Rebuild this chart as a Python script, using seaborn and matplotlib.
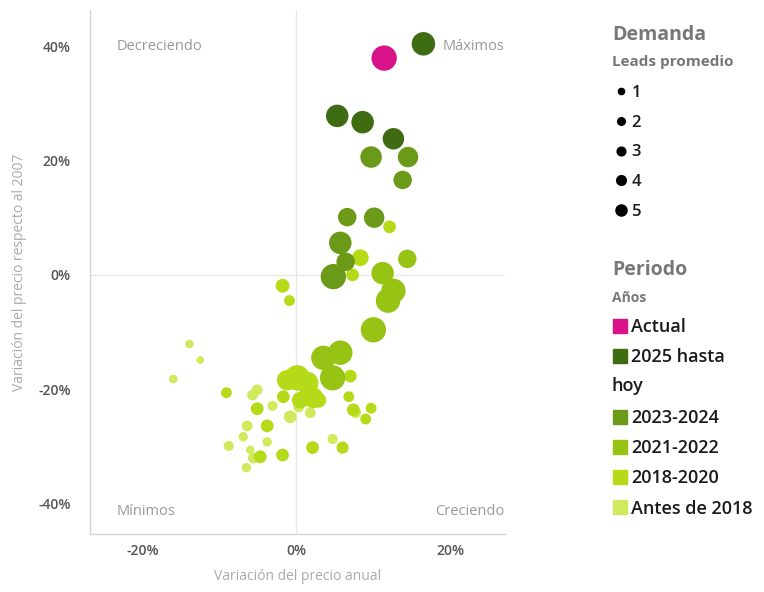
import numpy as np
import pandas as pd
import matplotlib.pyplot as plt
import seaborn as sns
from matplotlib.lines import Line2D

# ---- data ----
periodos = ['Actual', '2025 hasta hoy', '2023-2024', '2021-2022', '2018-2020', 'Antes de 2018']
colores = ['#d8138a', '#3f6b12', '#6a9a18', '#97c314', '#b5da18', '#cfea5c']

# variación del precio anual (%)
var_anual = [
    11.4,
    16.5, 5.3, 8.6, 12.6,
    9.7, 14.5, 13.8, 6.6, 10.1, 5.7, 6.4, 4.8,
    11.2, 12.6, 11.9, 14.4, 10.0, 3.5, 5.7, 4.7,
    12.1, 8.3, 7.3, -1.8, -0.9, 7.0, 0.1, -1.2, 1.4, 2.2, 0.5, -1.7, 2.9, 6.8,
    7.4, 9.7, 9.0, -9.1, -5.1, -3.8, -4.7, -1.8, 2.1, 6.0,
    -13.9, -12.5, -16.0, 0.3, 1.8, -0.8, 7.7, -5.7, -5.1, -3.1, -6.4, -6.9,
    -3.8, -8.8, -6.0, -5.6, 4.7, -6.5,
]
# variación del precio respecto al 2007 (%)
var_2007 = [
    37.9,
    40.4, 27.8, 26.7, 23.8,
    20.6, 20.6, 16.6, 10.1, 10.0, 5.6, 2.3, -0.3,
    0.3, -2.8, -4.5, 2.8, -9.6, -14.5, -13.6, -18.0,
    8.4, 3.0, 0.0, -1.9, -4.5, -17.7, -18.0, -18.4, -18.9, -21.5, -21.9, -21.3, -21.9, -21.3,
    -23.6, -23.3, -25.2, -20.6, -23.4, -26.4, -31.8, -31.5, -30.2, -30.2,
    -12.1, -14.9, -18.2, -23.1, -24.1, -24.8, -24.1, -21.0, -20.1, -22.9, -26.4, -28.3,
    -29.2, -29.9, -30.6, -32.0, -28.7, -33.7,
]
# leads promedio
leads = [
    4.9,
    4.3, 4.0, 4.0, 3.7,
    3.7, 3.4, 2.9, 2.9, 3.4, 4.0, 2.9, 4.9,
    4.0, 4.6, 4.6, 2.9, 4.9, 4.6, 4.6, 4.9,
    1.7, 2.5, 1.7, 1.9, 1.4, 1.7, 4.9, 3.4, 4.0, 3.4, 2.5, 1.7, 2.1, 1.4,
    1.7, 1.4, 1.4, 1.4, 1.7, 1.7, 1.7, 1.7, 1.7, 1.6,
    1.1, 1.0, 1.1, 1.4, 1.4, 1.7, 1.4, 1.4, 1.4, 1.3, 1.4, 1.2,
    1.2, 1.3, 1.1, 1.4, 1.3, 1.2,
]
periodo = (['Actual'] + ['2025 hasta hoy'] * 4 + ['2023-2024'] * 8 + ['2021-2022'] * 8
           + ['2018-2020'] * 24 + ['Antes de 2018'] * 18)

df = pd.DataFrame({'x': var_anual, 'y': var_2007, 'leads': leads, 'periodo': periodo})

# ---- plot ----
sns.set_theme(style='white')
plt.rcParams['font.family'] = ['Open Sans', 'DejaVu Sans']

fig = plt.figure(figsize=(7.64, 5.92), dpi=100)
ax = fig.add_axes([0.118, 0.098, 0.543, 0.885])

ax.axhline(0, color='#e8e8e8', lw=1, zorder=0)
ax.axvline(0, color='#e8e8e8', lw=1, zorder=0)

# draw the older periods first so the recent ones sit on top
sns.scatterplot(data=df.iloc[::-1], x='x', y='y', hue='periodo', hue_order=periodos,
                palette=colores, size='leads', sizes=(30, 340), size_norm=(1, 5),
                linewidth=0, legend=False, ax=ax, zorder=3)

ax.set_xlim(-26.8, 27.1)
ax.set_ylim(-45.3, 46.3)
ax.set_xticks([-20, 0, 20])
ax.set_yticks([-40, -20, 0, 20, 40])
ax.set_xticklabels([f'{t}%' for t in [-20, 0, 20]])
ax.set_yticklabels([f'{t}%' for t in [-40, -20, 0, 20, 40]])
ax.tick_params(length=0, labelsize=10, labelcolor='#555555')
ax.tick_params(axis='x', pad=7)
ax.tick_params(axis='y', pad=14)
for lab in ax.get_xticklabels() + ax.get_yticklabels():
    lab.set_fontweight('semibold')

for s in ['top', 'right']:
    ax.spines[s].set_visible(False)
for s in ['left', 'bottom']:
    ax.spines[s].set_color('#d4d4d4')
    ax.spines[s].set_linewidth(1)

ax.set_xlabel('Variación del precio anual', color='#aaaaaa', fontsize=10, labelpad=8)
ax.set_ylabel('Variación del precio respecto al 2007', color='#aaaaaa', fontsize=10, labelpad=8)

# quadrant labels
qc = '#999999'
ax.text(-23.3, 40, 'Decreciendo', color=qc, fontsize=10.5, va='center', ha='left')
ax.text(27.0, 40, 'Máximos', color=qc, fontsize=10.5, va='center', ha='right')
ax.text(-23.3, -41.3, 'Mínimos', color=qc, fontsize=10.5, va='center', ha='left')
ax.text(27.0, -41.3, 'Creciendo', color=qc, fontsize=10.5, va='center', ha='right')

# ---- legends ----
tc = '#777777'
fig.text(0.801, 0.941, 'Demanda', color=tc, fontsize=14, fontweight='bold', va='center')
fig.text(0.801, 0.895, 'Leads promedio', color=tc, fontsize=11, fontweight='bold', va='center')
fig.text(0.801, 0.544, 'Periodo', color=tc, fontsize=14, fontweight='bold', va='center')
fig.text(0.801, 0.497, 'Años', color=tc, fontsize=10, fontweight='bold', va='center')

size_handles = [Line2D([], [], marker='o', ls='', color='black', markersize=ms)
                for ms in [4.5, 5.5, 6.3, 7, 8]]
leg1 = fig.legend(size_handles, ['1', '2', '3', '4', '5'], loc='upper left',
                  bbox_to_anchor=(0.795, 0.871), frameon=False,
                  prop={'size': 12, 'weight': 'semibold'},
                  handlelength=0.6, handletextpad=0.35, labelspacing=0.83, borderpad=0)
for t in leg1.get_texts():
    t.set_color('#1a1a1a')

# the "hoy" row is kept empty in the legend and written at the left edge, like the reference
per_handles = [Line2D([], [], marker='s', ls='', color=c, markersize=10) for c in colores]
per_handles.insert(2, Line2D([], [], ls='', marker=''))
per_labels = ['Actual', '2025 hasta', ' ', '2023-2024', '2021-2022', '2018-2020', 'Antes de 2018']
leg2 = fig.legend(per_handles, per_labels, loc='upper left',
                  bbox_to_anchor=(0.792, 0.478), frameon=False,
                  prop={'size': 13, 'weight': 'semibold'},
                  handlelength=0.6, handletextpad=0.35, labelspacing=0.68, borderpad=0)
for t in leg2.get_texts():
    t.set_color('#1a1a1a')
fig.text(0.801, 1 - 386 / 592, 'hoy', color='#1a1a1a', fontsize=13, fontweight='semibold',
         va='center')

fig.savefig('out.png', dpi=100)
